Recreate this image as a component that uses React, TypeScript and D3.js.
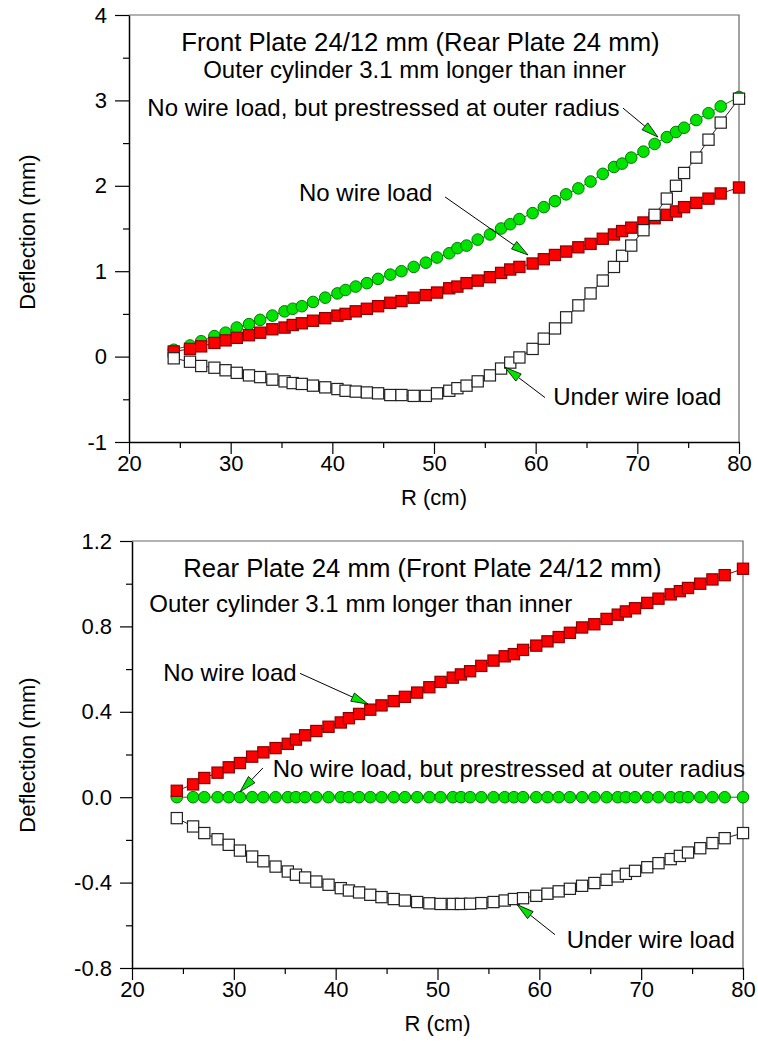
import * as d3 from "d3";
import { useEffect, useRef } from "react";

// radius positions (cm), shared by every series
const radius = [
  24.4, 26.0, 27.1, 28.4, 29.5, 30.6, 31.8, 32.9, 34.1, 35.3, 36.1, 37.0, 38.1,
  39.3, 40.5, 41.3, 42.3, 43.4, 44.5, 45.7, 46.8, 48.0, 49.2, 50.3, 51.5, 52.3,
  53.2, 54.3, 55.5, 56.6, 57.5, 58.4, 59.7, 60.8, 61.9, 63.0, 64.2, 65.4, 66.6,
  67.7, 68.5, 69.4, 70.6, 71.7, 72.9, 73.8, 74.6, 75.8, 77.0, 78.2, 80.0,
];

// front plate (top panel)
const frontNoLoad = [
  0.06, 0.09, 0.12, 0.16, 0.19, 0.22, 0.25, 0.28, 0.32, 0.34, 0.37, 0.39, 0.42,
  0.45, 0.48, 0.5, 0.53, 0.56, 0.59, 0.63, 0.65, 0.69, 0.72, 0.75, 0.8, 0.82,
  0.86, 0.89, 0.93, 0.98, 1.02, 1.05, 1.09, 1.14, 1.19, 1.23, 1.28, 1.32, 1.38,
  1.43, 1.47, 1.51, 1.57, 1.62, 1.66, 1.7, 1.75, 1.8, 1.85, 1.91, 1.98,
];
const frontPrestressed = [
  0.08, 0.13, 0.18, 0.24, 0.28, 0.34, 0.38, 0.43, 0.48, 0.53, 0.56, 0.59, 0.64,
  0.69, 0.74, 0.78, 0.82, 0.86, 0.91, 0.96, 1.0, 1.05, 1.1, 1.16, 1.21, 1.27,
  1.3, 1.37, 1.43, 1.5, 1.55, 1.61, 1.68, 1.75, 1.82, 1.9, 1.97, 2.05, 2.14,
  2.22, 2.26, 2.33, 2.4, 2.49, 2.57, 2.63, 2.68, 2.77, 2.85, 2.93, 3.04,
];
const frontWireLoad = [
  -0.02, -0.06, -0.11, -0.13, -0.16, -0.19, -0.22, -0.24, -0.27, -0.29, -0.31,
  -0.32, -0.34, -0.36, -0.38, -0.4, -0.41, -0.42, -0.43, -0.45, -0.45, -0.46,
  -0.46, -0.43, -0.4, -0.37, -0.34, -0.29, -0.22, -0.14, -0.07, -0.01, 0.09,
  0.21, 0.33, 0.46, 0.6, 0.74, 0.89, 1.05, 1.18, 1.3, 1.48, 1.66, 1.85, 2.0,
  2.15, 2.33, 2.54, 2.74, 3.02,
];

// rear plate (bottom panel)
const rearNoLoad = [
  0.03, 0.06, 0.09, 0.115, 0.14, 0.16, 0.19, 0.21, 0.23, 0.25, 0.27, 0.29, 0.31,
  0.33, 0.35, 0.37, 0.39, 0.41, 0.43, 0.45, 0.47, 0.49, 0.515, 0.54, 0.56,
  0.575, 0.59, 0.615, 0.64, 0.66, 0.67, 0.69, 0.71, 0.73, 0.75, 0.77, 0.795,
  0.81, 0.835, 0.855, 0.87, 0.885, 0.91, 0.93, 0.95, 0.965, 0.98, 1.0, 1.02,
  1.04, 1.07,
];
const rearPrestressed = [
  0, 0, 0, 0, 0, 0, 0, 0, 0, 0, 0, 0, 0, 0, 0, 0, 0, 0, 0, 0, 0, 0, 0, 0, 0, 0,
  0, 0, 0, 0, 0, 0, 0, 0, 0, 0, 0, 0, 0, 0, 0, 0, 0, 0, 0, 0, 0, 0, 0, 0, 0,
];
const rearWireLoad = [
  -0.098, -0.137, -0.168, -0.197, -0.223, -0.25, -0.278, -0.3, -0.325, -0.348,
  -0.363, -0.376, -0.395, -0.41, -0.426, -0.437, -0.446, -0.457, -0.468, -0.477,
  -0.484, -0.491, -0.497, -0.5, -0.5, -0.5, -0.499, -0.496, -0.491, -0.484,
  -0.477, -0.473, -0.462, -0.452, -0.441, -0.429, -0.415, -0.402, -0.387,
  -0.371, -0.359, -0.345, -0.328, -0.309, -0.29, -0.275, -0.259, -0.239,
  -0.215, -0.192, -0.168,
];

const xTicks = [20, 30, 40, 50, 60, 70, 80];
const xMinor = [25, 35, 45, 55, 65, 75];
const frontYTicks = [-1, 0, 1, 2, 3, 4];
const frontYMinor = [-0.5, 0.5, 1.5, 2.5, 3.5];
const rearYTicks = [-0.8, -0.4, 0, 0.4, 0.8, 1.2];
const rearYMinor = [-0.6, -0.2, 0.2, 0.6, 1.0];

// annotation texts [label, x, y, size] in data units
const frontLabels = [
  ["Front Plate 24/12 mm (Rear Plate 24 mm)", 25.15, 3.58, 25.7],
  ["Outer cylinder 3.1 mm longer than inner", 27.3, 3.26, 24],
  ["No wire load, but prestressed at outer radius", 21.8, 2.816, 24],
  ["No wire load", 36.72, 1.82, 24],
  ["Under wire load", 61.73, -0.571, 24],
];
const rearLabels = [
  ["Rear Plate 24 mm (Front Plate 24/12 mm)", 25.04, 1.032, 25.7],
  ["Outer cylinder 3.1 mm longer than inner", 21.7, 0.868, 24],
  ["No wire load", 23.07, 0.545, 24],
  ["No wire load, but prestressed at outer radius", 33.82, 0.0935, 24],
  ["Under wire load", 62.69, -0.706, 24],
];
// arrows [x0, y0, xTip, yTip] in data units
const frontArrows = [
  [68.59, 2.91, 72.03, 2.57],
  [51.08, 1.87, 59.25, 1.19],
  [60.92, -0.48, 56.98, -0.125],
];
const rearArrows = [
  [36.5, 0.58, 43.18, 0.436],
  [32.86, 0.137, 30.6, 0.025],
  [61.54, -0.644, 57.81, -0.503],
];

const FONT = "'Liberation Sans', Arial, sans-serif";
const GREEN = "#00e400";

function drawPanel(svg, p) {
  const x = d3.scaleLinear().domain([20, 80]).range([p.left, p.right]);
  const y = d3.scaleLinear().domain(p.yDomain).range([p.bottom, p.top]);
  const g = svg.append("g");

  // frame
  g.append("path")
    .attr("d", `M${p.left},${p.top}H${p.right}V${p.bottom}`)
    .attr("fill", "none")
    .attr("stroke", "#666")
    .attr("stroke-width", 1.2);

  const styleAxis = (a) => {
    a.attr("font-family", FONT).attr("font-size", 22);
    a.selectAll("line").attr("stroke", "#000").attr("stroke-width", 1.2);
    a.selectAll("path").attr("stroke", "#000").attr("stroke-width", 1.5);
    a.selectAll("text").attr("fill", "#000");
  };

  g.append("g")
    .attr("transform", `translate(0,${p.bottom})`)
    .call(d3.axisBottom(x).tickValues(xTicks).tickSize(12).tickSizeOuter(0).tickPadding(1).tickFormat((d) => String(d)))
    .call(styleAxis);
  g.append("g")
    .attr("transform", `translate(0,${p.bottom})`)
    .call(d3.axisBottom(x).tickValues(xMinor).tickSize(6).tickFormat(() => ""))
    .call((a) => a.select(".domain").remove())
    .call(styleAxis);

  g.append("g")
    .attr("transform", `translate(${p.left},0)`)
    .call(d3.axisLeft(y).tickValues(p.yTicks).tickSize(p.tick).tickSizeOuter(0).tickPadding(8).tickFormat(p.fmt))
    .call(styleAxis);
  g.append("g")
    .attr("transform", `translate(${p.left},0)`)
    .call(d3.axisLeft(y).tickValues(p.yMinor).tickSize(6).tickFormat(() => ""))
    .call((a) => a.select(".domain").remove())
    .call(styleAxis);

  // axis titles
  g.append("text")
    .attr("x", (p.left + p.right) / 2)
    .attr("y", p.bottom + 63)
    .attr("text-anchor", "middle")
    .attr("font-family", FONT)
    .attr("font-size", 22)
    .text("R (cm)");
  g.append("text")
    .attr("transform", `translate(35,${p.yTitle}) rotate(-90)`)
    .attr("text-anchor", "middle")
    .attr("font-family", FONT)
    .attr("font-size", 22)
    .text("Deflection (mm)");

  const series = [
    { v: p.prestressed, shape: "circle", fill: GREEN, stroke: "#007a00" },
    { v: p.noLoad, shape: "square", fill: "#ff0000", stroke: "#8b0000" },
    { v: p.wireLoad, shape: "square", fill: "#ffffff", stroke: "#222" },
  ];
  series.forEach((s) => {
    const pts = radius.map((r, i) => [r, s.v[i]]);
    g.append("path")
      .datum(pts)
      .attr("fill", "none")
      .attr("stroke", s.stroke)
      .attr("stroke-width", 1)
      .attr("d", d3.line().x((d) => x(d[0])).y((d) => y(d[1])));
    if (s.shape === "circle") {
      g.selectAll(null)
        .data(pts)
        .enter()
        .append("circle")
        .attr("cx", (d) => x(d[0]))
        .attr("cy", (d) => y(d[1]))
        .attr("r", 5.8)
        .attr("fill", s.fill)
        .attr("stroke", s.stroke)
        .attr("stroke-width", 1);
    } else {
      g.selectAll(null)
        .data(pts)
        .enter()
        .append("rect")
        .attr("x", (d) => x(d[0]) - 5.6)
        .attr("y", (d) => y(d[1]) - 5.6)
        .attr("width", 11.2)
        .attr("height", 11.2)
        .attr("fill", s.fill)
        .attr("stroke", s.stroke)
        .attr("stroke-width", 1.2);
    }
  });

  p.labels.forEach(([t, lx, ly, fs]) => {
    g.append("text")
      .attr("x", x(lx))
      .attr("y", y(ly))
      .attr("font-family", FONT)
      .attr("font-size", fs)
      .text(t);
  });

  p.arrows.forEach(([x0, y0, x1, y1]) => {
    const ax = x(x0), ay = y(y0), bx = x(x1), by = y(y1);
    const ang = Math.atan2(by - ay, bx - ax);
    const L = 17, W = 4.5;
    const cx = bx - L * Math.cos(ang), cy = by - L * Math.sin(ang);
    g.append("line")
      .attr("x1", ax).attr("y1", ay).attr("x2", cx).attr("y2", cy)
      .attr("stroke", "#000").attr("stroke-width", 1);
    const nx = -Math.sin(ang) * W, ny = Math.cos(ang) * W;
    g.append("path")
      .attr("d", `M${bx},${by}L${cx + nx},${cy + ny}L${cx - nx},${cy - ny}Z`)
      .attr("fill", GREEN)
      .attr("stroke", "#000")
      .attr("stroke-width", 0.8);
  });
}

const App = () => {
  const ref = useRef(null);

  useEffect(() => {
    const svg = d3.select(ref.current);
    drawPanel(svg, {
      left: 129, right: 739, top: 15, bottom: 442,
      yDomain: [-1, 4], yTicks: frontYTicks, yMinor: frontYMinor, tick: 14,
      fmt: (d) => String(d), yTitle: 232,
      noLoad: frontNoLoad, prestressed: frontPrestressed, wireLoad: frontWireLoad,
      labels: frontLabels, arrows: frontArrows,
    });
    drawPanel(svg, {
      left: 132, right: 743, top: 541, bottom: 968,
      yDomain: [-0.8, 1.2], yTicks: rearYTicks, yMinor: rearYMinor, tick: 12,
      fmt: (d) => d.toFixed(1), yTitle: 755,
      noLoad: rearNoLoad, prestressed: rearPrestressed, wireLoad: rearWireLoad,
      labels: rearLabels, arrows: rearArrows,
    });
    return () => svg.selectAll("*").remove();
  }, []);

  return (
    <svg
      ref={ref}
      width={758}
      height={1055}
      style={{ position: "absolute", left: 0, top: 0, background: "#fff" }}
    />
  );
};

export default App;
